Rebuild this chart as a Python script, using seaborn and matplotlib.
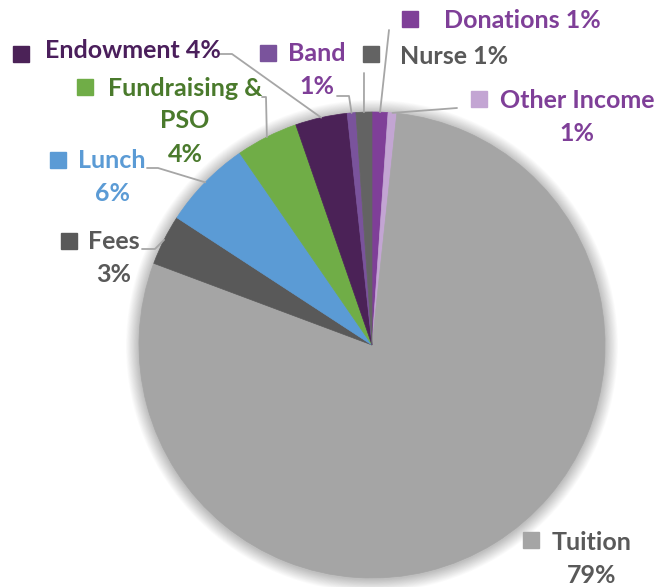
import matplotlib
matplotlib.use('Agg')
import matplotlib.pyplot as plt
from matplotlib.patches import Circle
import seaborn as sns
import numpy as np

sns.set_theme(style='white')
plt.rcParams['font.family'] = ['Lato', 'DejaVu Sans']

# data, clockwise from 12 o'clock
categories = ['Donations', 'Other Income', 'Tuition', 'Fees', 'Lunch',
              'Fundraising & PSO', 'Endowment', 'Band', 'Nurse']
shares = [1.1, 0.6, 79.0, 3.5, 6.2, 4.3, 3.6, 0.6, 1.1]
label_text = ['Donations 1%', 'Other Income\n1%', 'Tuition\n79%', 'Fees\n3%', 'Lunch\n6%',
              'Fundraising &\nPSO\n4%', 'Endowment 4%', 'Band\n1%', 'Nurse 1%']

slice_colors = ['#7F3F98', '#C3A5D3', '#A5A5A5', '#595959', '#5B9BD5',
                '#70AD47', '#4B2257', '#7A539C', '#636363']
text_colors = ['#7F3F98', '#7F3F98', '#595959', '#595959', '#5B9BD5',
               '#4A7A2C', '#4B1F5C', '#7F3F98', '#595959']

W, H = 665, 587
CX, CY, R = 372, 345, 233
LINE_STEP = 33

# label layout (pixel positions, y from top)
text_pos = [(522, 20), (577, 117), (592, 559), (114, 258), (112, 177),
            (185, 121), (133, 51), (317, 70), (454, 57)]
square_pos = [(410, 19), (479, 99), (531, 540), (69, 241), (58, 160),
              (85, 87), (21, 54), (268, 53), (371, 54)]
# elbow points of the leader lines (None = no leader)
leader_pts = [[(389, 30)],
              [(457, 108)],
              None,
              [(155, 249), (142, 249)],
              [(158, 168), (147, 168)],
              [(266, 97), (262, 97)],
              [(232, 54), (220, 54)],
              [(349, 96), (337, 96)],
              [(364, 73)]]

def px(x, y):
    return x, H - y

fig = plt.figure(figsize=(W / 100, H / 100), dpi=100)
ax = fig.add_axes([0, 0, 1, 1])

# soft shadow around the pie
cx, cy = px(CX, CY)
for k in range(16):
    ax.add_patch(Circle((cx, cy - 1), R + 1 + k * 0.8, color='black', alpha=0.014, lw=0, zorder=0))

wedges, _ = ax.pie(shares, colors=slice_colors, startangle=90, counterclock=False,
                   center=(cx, cy), radius=R, wedgeprops=dict(linewidth=0.5),
                   frame=True)
ax.set_xlim(0, W)
ax.set_ylim(0, H)
ax.set_aspect('equal')
ax.axis('off')

for i, w in enumerate(wedges):
    w.set_edgecolor(slice_colors[i])
    # leader line from the wedge mid-angle at the rim
    if leader_pts[i] is not None:
        theta = np.deg2rad((w.theta1 + w.theta2) / 2)
        xs = [cx + R * np.cos(theta)] + [px(*p)[0] for p in leader_pts[i]]
        ys = [cy + R * np.sin(theta)] + [px(*p)[1] for p in leader_pts[i]]
        ax.plot(xs, ys, color='#A6A6A6', lw=1.3, zorder=3)
    # one text per line, centred
    lines = label_text[i].split('\n')
    n = len(lines)
    for j, line in enumerate(lines):
        tx, ty = px(text_pos[i][0], text_pos[i][1] + (j - (n - 1) / 2) * LINE_STEP)
        ax.text(tx, ty, line, ha='center', va='center', fontsize=18,
                fontweight='bold', color=text_colors[i], zorder=4)
    sx, sy = px(*square_pos[i])
    ax.plot(sx, sy, marker='s', markersize=11, color=slice_colors[i], zorder=4)

fig.savefig('out.png', dpi=100)
